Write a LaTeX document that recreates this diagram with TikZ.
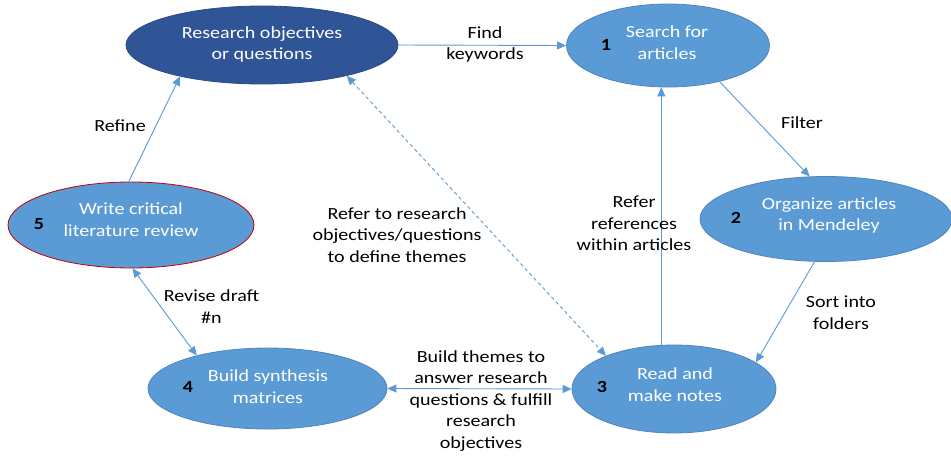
\documentclass[tikz,border=0pt]{standalone}
\usepackage{fontspec}
\setmainfont{Carlito}[FakeStretch=1.18]
\usetikzlibrary{shapes.geometric,arrows.meta}
\definecolor{boxblue}{HTML}{5B9BD5}
\definecolor{boxedge}{HTML}{4F84BC}
\definecolor{deepblue}{HTML}{2F5597}
\definecolor{deepedge}{HTML}{2A4B85}
\definecolor{redge}{HTML}{C00000}
\definecolor{linkblue}{HTML}{5B9BD5}
\tikzset{
  stage/.style={ellipse, draw=boxedge, fill=boxblue, line width=0.8pt, inner sep=0pt},
  stagetext/.style={text=white, align=center, font=\fontsize{17}{21.5}\selectfont},
  num/.style={font=\fontsize{17}{20}\selectfont\bfseries, text=black},
  note/.style={align=center, text=black, font=\fontsize{17}{21.5}\selectfont, inner sep=0pt},
  link/.style={draw=linkblue, line width=0.9pt, -{Triangle[length=9pt,width=8pt]}},
  duallink/.style={link, {Triangle[length=9pt,width=8pt]}-{Triangle[length=9pt,width=8pt]}},
}
\begin{document}
\begin{tikzpicture}[x=1pt,y=-1pt]
\useasboundingbox (0,0) rectangle (951,458);
\fill[white] (0,0) rectangle (951,458);

% process stages
\node[stage, fill=deepblue, draw=deepedge, minimum width=272, minimum height=78] (ro) at (262,45) {};
\node[stage, minimum width=203, minimum height=83] (sa) at (668,45.5) {};
\node[stage, minimum width=252, minimum height=85] (om) at (826,219) {};
\node[stage, minimum width=204, minimum height=88] (rd) at (674,389) {};
\node[stage, minimum width=239, minimum height=81] (bs) at (267.5,388.5) {};
\node[stage, draw=redge, minimum width=246, minimum height=86] (wc) at (131,225) {};

\node[stagetext] (ro-t) at (262,44.5) {Research objectives\\or questions};
\node[stagetext] (sa-t) at (667,42.5) {Search for\\articles};
\node[stagetext] (om-t) at (829,215.5) {Organize articles\\in Mendeley};
\node[stagetext] (rd-t) at (675,384.5) {Read and\\make notes};
\node[stagetext] (bs-t) at (268,386.5) {Build synthesis\\matrices};
\node[stagetext] (wc-t) at (131,219.5) {Write critical\\literature review};

% step numbers
\node[num] (n1) at (606,45) {1};
\node[num] (n2) at (736,218) {2};
\node[num] (n3) at (602,387) {3};
\node[num] (n4) at (188,387) {4};
\node[num] (n5) at (39,224) {5};

% connectors
\draw[link] (ro.east) -- (sa.west);
\draw[link] (sa.-35.5) -- (om.111.4);
\draw[link] (om.255) -- (rd.18);
\draw[link] (rd.106) -- (rd.106 |- sa.261);
\draw[duallink] (rd.west) -- (bs.east);
\draw[duallink] (wc.272.5) -- (bs.155.4);
\draw[link] (wc.93.8) -- (ro.201.4);
\draw[duallink, dash pattern=on 3.5pt off 3pt] (ro.-20.6) -- (rd.154);

% connector labels
\node[note] (l-find) at (485,44.5) {Find\\keywords};
\node[note] (l-filter) at (802,123) {Filter};
\node[note] (l-sort) at (841,312.5) {Sort into\\folders};
\node[note] (l-refs) at (634,223.5) {Refer\\references\\within articles};
\node[note] (l-themes) at (481,401) {Build themes to\\answer research\\questions \& fulfill\\research\\objectives};
\node[note] (l-revise) at (211.5,306.5) {Revise draft\\\#n};
\node[note] (l-refine) at (120,126) {Refine};
\node[note] (l-define) at (397,235) {Refer to research\\objectives/questions\\to define themes};
\end{tikzpicture}
\end{document}
